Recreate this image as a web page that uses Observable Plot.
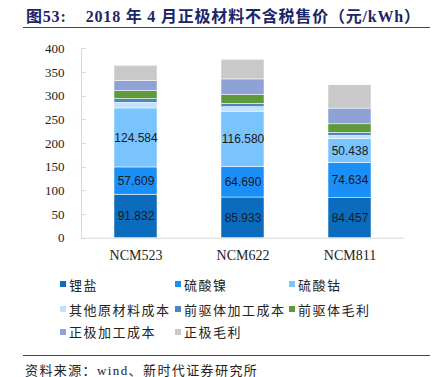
<!DOCTYPE html>
<html>
<head>
<meta charset="utf-8">
<script src="https://cdn.jsdelivr.net/npm/d3@7"></script>
<script src="https://cdn.jsdelivr.net/npm/@observablehq/plot@0.6"></script>
<style>
  html, body { margin: 0; padding: 0; background: #fff; }
  body { width: 436px; height: 377px; position: relative; overflow: hidden; }
  #title { position: absolute; left: 26px; top: 3px; font-family: "Liberation Serif", "Noto Sans CJK SC", serif; font-weight: bold; font-size: 16px; color: #1c2566; white-space: pre; letter-spacing: 0.8px; }
  .hline { position: absolute; left: 23px; width: 407px; height: 0; border-top: 1.3px solid #444; }
  #chart { position: absolute; left: 0; top: 32px; }
  #legend { position: absolute; left: 60px; top: 274px; font-family: "Noto Sans CJK SC", sans-serif; font-size: 13px; color: #222; letter-spacing: 1.5px; }
  .item { position: absolute; white-space: nowrap; display: flex; align-items: center; height: 20px; }
  .sw { width: 6px; height: 6px; margin-right: 3px; }
  #source { position: absolute; left: 25px; top: 360px; font-family: "Liberation Serif", "Noto Sans CJK SC", serif; font-size: 13px; color: #222; letter-spacing: 1.4px; }
</style>
</head>
<body>
<div id="title">图53:    2018 年 4 月正极材料不含税售价（元/kWh）</div>
<div class="hline" style="top:26.5px"></div>
<div id="chart"></div>
<div id="legend"></div>
<div class="hline" style="top:354.5px"></div>
<div id="source">资料来源：wind、新时代证券研究所</div>
<script>
const categories = ["NCM523", "NCM622", "NCM811"];
const seriesNames = ["锂盐", "硫酸镍", "硫酸钴", "其他原材料成本", "前驱体加工成本", "前驱体毛利", "正极加工成本", "正极毛利"];
const lithiumSalt = [91.832, 85.933, 84.457];
const nickelSulfate = [57.609, 64.690, 74.634];
const cobaltSulfate = [124.584, 116.580, 50.438];
const otherRawCost = [12.0, 9.5, 6.5];
const precursorProcCost = [7.8, 7.2, 6.3];
const precursorMargin = [16.9, 18.2, 18.2];
const cathodeProcCost = [21.1, 33.2, 33.2];
const cathodeMargin = [32.3, 41.6, 49.2];
const labeledSeries = ["锂盐", "硫酸镍", "硫酸钴"];
const seriesColors = ["#0b6cbd", "#1a8ff7", "#79c3ff", "#bfe2ff", "#4f84c4", "#5e9a3a", "#8ea2d6", "#c9c9c9"];
const yTicks = [0, 50, 100, 150, 200, 250, 300, 350, 400];

const seriesValues = [lithiumSalt, nickelSulfate, cobaltSulfate, otherRawCost, precursorProcCost, precursorMargin, cathodeProcCost, cathodeMargin];
const data = [];
categories.forEach((c, i) => {
  seriesNames.forEach((s, j) => data.push({category: c, series: s, value: seriesValues[j][i]}));
});

const fmt = d3.format(".3f");

const axisLineMark = (index, scales, values, dimensions) => {
  const g = d3.create("svg:g");
  const x0 = dimensions.marginLeft + 0.5;
  const yTop = scales.y(400), yBot = scales.y(0);
  g.append("line").attr("x1", x0).attr("x2", x0).attr("y1", yTop).attr("y2", yBot).attr("stroke", "#d9d9d9");
  for (const t of yTicks) {
    const yy = Math.round(scales.y(t)) + 0.5;
    g.append("line").attr("x1", x0).attr("x2", x0 + 4).attr("y1", yy).attr("y2", yy).attr("stroke", "#d9d9d9");
  }
  return g.node();
};

const chart = Plot.plot({
  width: 436,
  height: 240,
  marginLeft: 81,
  marginRight: 32,
  marginTop: 16.3,
  marginBottom: 34.3,
  x: {domain: categories, paddingInner: 0.6, paddingOuter: 0.3, label: null},
  y: {domain: [0, 400], label: null},
  color: {domain: seriesNames, range: seriesColors},
  style: {fontFamily: "Liberation Serif, serif", background: "#fff"},
  marks: [
    Plot.axisY({ticks: yTicks, tickSize: 0, tickPadding: 17, fontSize: 13, fill: "#222", label: null}),
    Plot.axisX({tickSize: 0, tickPadding: 12, fontSize: 14, fill: "#222", label: null}),
    Plot.barY(data, {x: "category", y: "value", fill: "series", order: seriesNames, stroke: "#fff", strokeWidth: 0.5}),
    Plot.ruleY([0], {stroke: "#d9d9d9"}),
    axisLineMark,
    Plot.text(data, Plot.stackY({
      x: "category", y: "value", z: "series", order: seriesNames,
      text: d => labeledSeries.includes(d.series) ? fmt(d.value) : null,
      fill: "#1a1a1a", fontSize: 12, fontFamily: "Liberation Sans, sans-serif"
    }))
  ]
});
document.getElementById("chart").appendChild(chart);

const legend = document.getElementById("legend");
const colX = [0, 115, 229];
const rowY = [0, 25, 47.5];
seriesNames.forEach((s, i) => {
  const item = document.createElement("div");
  item.className = "item";
  item.style.left = colX[i % 3] + "px";
  item.style.top = rowY[Math.floor(i / 3)] + "px";
  const sw = document.createElement("span");
  sw.className = "sw";
  sw.style.background = seriesColors[i];
  const label = document.createElement("span");
  label.textContent = s;
  item.appendChild(sw);
  item.appendChild(label);
  legend.appendChild(item);
});
</script>
</body>
</html>
